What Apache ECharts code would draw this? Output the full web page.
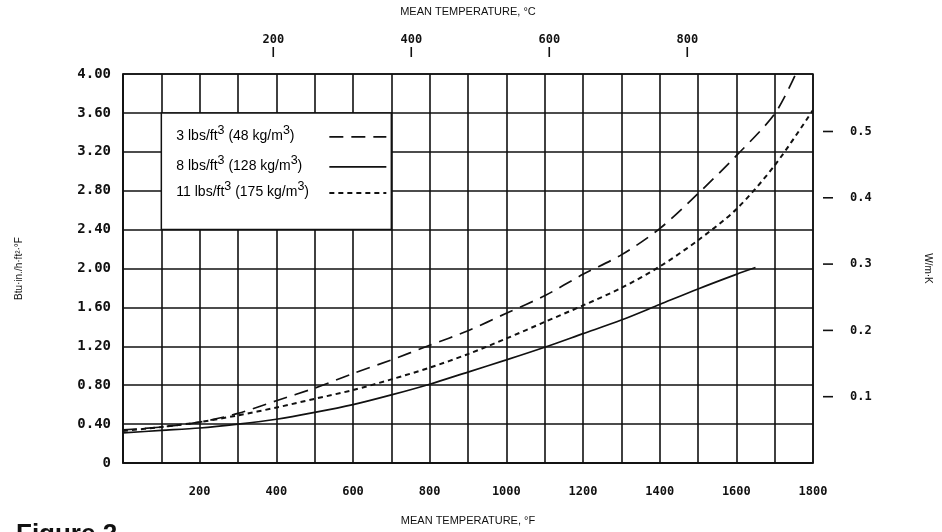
<!DOCTYPE html>
<html>
<head>
<meta charset="utf-8">
<script src="https://cdn.jsdelivr.net/npm/echarts@6/dist/echarts.min.js"></script>
<style>
html,body{margin:0;padding:0;background:#fff;}
#chart{width:942px;height:532px;}
</style>
</head>
<body>
<div id="chart"></div>
<script>
// ---- Data ----
// Mean temperature in °F, thermal conductivity in Btu·in/h·ft²·°F
const tempF3 = [0,100,200,300,400,500,600,700,800,900,1000,1100,1200,1300,1400,1500,1600,1700,1755];
const k3     = [0.34,0.37,0.42,0.51,0.64,0.77,0.92,1.06,1.21,1.36,1.54,1.72,1.94,2.14,2.41,2.77,3.16,3.59,4.00];

const tempF8 = [0,100,200,300,400,500,600,700,800,900,1000,1100,1200,1300,1400,1500,1600,1650];
const k8     = [0.31,0.335,0.36,0.40,0.45,0.52,0.60,0.70,0.81,0.935,1.06,1.19,1.33,1.47,1.63,1.79,1.94,2.01];

const tempF11 = [0,100,200,300,400,500,600,700,800,900,1000,1100,1200,1300,1400,1500,1600,1700,1800];
const k11     = [0.33,0.37,0.42,0.49,0.57,0.66,0.75,0.86,0.98,1.12,1.28,1.45,1.62,1.80,2.02,2.29,2.61,3.06,3.63];

const seriesNames = ['3 lbs/ft3 (48 kg/m3)', '8 lbs/ft3 (128 kg/m3)', '11 lbs/ft3 (175 kg/m3)'];
const celsiusTicks = [200, 400, 600, 800];
const wmkTicks = [0.1, 0.2, 0.3, 0.4, 0.5];
const fLabelTicks = [200,400,600,800,1000,1200,1400,1600,1800];

// ---- Chart ----
const zip = (xs, ys) => xs.map((x, i) => [x, ys[i]]);
const chart = echarts.init(document.getElementById('chart'));
const monoFont = "'DejaVu Sans Mono', monospace";
const narrowFont = "'Liberation Sans Narrow', 'Liberation Sans', sans-serif";

const fMin = 0, fMax = 1800;
const cMin = (fMin - 32) / 1.8, cMax = (fMax - 32) / 1.8;
const gridTop = 74, gridRight = 129;

chart.setOption({
  animation: false,
  backgroundColor: '#fff',
  grid: { left: 123, right: gridRight, top: gridTop, bottom: 69, show: true, borderColor: '#111', borderWidth: 1.5, backgroundColor: 'transparent' },
  xAxis: [
    {
      type: 'value', position: 'bottom', min: fMin, max: fMax, interval: 100,
      axisLine: { show: true, lineStyle: { color: '#111', width: 1.5 } },
      axisTick: { show: false },
      splitLine: { show: true, lineStyle: { color: '#111', width: 1.6 } },
      axisLabel: {
        margin: 23, color: '#111', fontFamily: monoFont, fontSize: 12, fontWeight: 'bold',
        formatter: v => fLabelTicks.indexOf(v) >= 0 ? String(v) : ''
      },
      name: 'MEAN TEMPERATURE, °F', nameLocation: 'middle', nameGap: 52,
      nameTextStyle: { fontFamily: narrowFont, fontSize: 11, color: '#111' }
    },
    {
      type: 'value', position: 'top', min: cMin, max: cMax, offset: 17,
      axisLine: { show: false },
      axisTick: { show: false },
      splitLine: { show: false },
      axisLabel: { customValues: celsiusTicks, margin: 11, color: '#111', fontFamily: monoFont, fontSize: 12, fontWeight: 'bold' },
      name: 'MEAN TEMPERATURE, °C', nameLocation: 'middle', nameGap: 40,
      nameTextStyle: { fontFamily: narrowFont, fontSize: 11, color: '#111' }
    }
  ],
  yAxis: [
    {
      type: 'value', position: 'left', min: 0, max: 4, interval: 0.4,
      axisLine: { show: true, lineStyle: { color: '#111', width: 1.5 } },
      axisTick: { show: false },
      splitLine: { show: true, lineStyle: { color: '#111', width: 1.5 } },
      axisLabel: {
        margin: 12, color: '#111', fontFamily: monoFont, fontSize: 14, fontWeight: 'bold',
        formatter: v => Math.abs(v) < 1e-9 ? '0' : v.toFixed(2)
      },
      name: 'Btu·in./h·ft²·°F', nameLocation: 'middle', nameGap: 99, nameRotate: 90,
      nameTextStyle: { fontFamily: narrowFont, fontSize: 10, color: '#111' }
    },
    {
      type: 'value', position: 'right', min: 0, max: 0.5867, offset: 10,
      axisLine: { show: false },
      axisTick: { show: false },
      splitLine: { show: false },
      axisLabel: { customValues: wmkTicks, margin: 27, color: '#111', fontFamily: monoFont, fontSize: 12, fontWeight: 'bold',
        formatter: v => v.toFixed(1) },
      name: 'W/m·K', nameLocation: 'middle', nameGap: 100, nameRotate: -90,
      nameTextStyle: { fontFamily: narrowFont, fontSize: 10, color: '#111' }
    }
  ],
  series: [
    { name: seriesNames[0], type: 'line', xAxisIndex: 0, yAxisIndex: 0, data: zip(tempF3, k3),
      showSymbol: false, smooth: 0.3, z: 5,
      lineStyle: { color: '#111', width: 1.7, type: [14, 8] } },
    { name: seriesNames[1], type: 'line', xAxisIndex: 0, yAxisIndex: 0, data: zip(tempF8, k8),
      showSymbol: false, smooth: 0.3, z: 5,
      lineStyle: { color: '#111', width: 1.7, type: 'solid' } },
    { name: seriesNames[2], type: 'line', xAxisIndex: 0, yAxisIndex: 0, data: zip(tempF11, k11),
      showSymbol: false, smooth: 0.3, z: 5,
      lineStyle: { color: '#111', width: 2, type: [5, 4] } }
  ]
});

// ---- Legend box placed over the grid cell block 100–700 °F, 2.40–3.60 ----
const p1 = chart.convertToPixel({ xAxisIndex: 0, yAxisIndex: 0 }, [100, 3.6]);
const p2 = chart.convertToPixel({ xAxisIndex: 0, yAxisIndex: 0 }, [700, 2.4]);
const bx = p1[0], by = p1[1], bw = p2[0] - p1[0], bh = p2[1] - p1[1];
const legendRows = [
  { txt: '{a|3 lbs/ft}{s|3}{a| (48 kg/m}{s|3}{a|)}', dash: [14, 8], w: 1.7, dy: 23 },
  { txt: '{a|8 lbs/ft}{s|3}{a| (128 kg/m}{s|3}{a|)}', dash: null, w: 1.7, dy: 53 },
  { txt: '{a|11 lbs/ft}{s|3}{a| (175 kg/m}{s|3}{a|)}', dash: [5, 4], w: 2, dy: 79 }
];
const rich = {
  a: { fontFamily: "'Liberation Sans', sans-serif", fontSize: 14, color: '#111' },
  s: { fontFamily: "'Liberation Sans', sans-serif", fontSize: 12.5, color: '#111', padding: [0, 0, 10, 0] }
};
const g = [
  { type: 'rect', z: 10, shape: { x: bx, y: by, width: bw, height: bh },
    style: { fill: '#fff', stroke: '#111', lineWidth: 1.5 } }
];
legendRows.forEach(r => {
  g.push({ type: 'text', z: 11, x: bx + 15, y: by + r.dy,
    style: { text: r.txt, rich: rich, verticalAlign: 'middle', align: 'left' } });
  g.push({ type: 'line', z: 11, shape: { x1: bx + 168, y1: by + r.dy + 1, x2: bx + 225, y2: by + r.dy + 1 },
    style: { stroke: '#111', lineWidth: r.w, lineDash: r.dash } });
});

// ---- Detached tick marks for the secondary (°C and W/m·K) axes ----
celsiusTicks.forEach(c => {
  const x = chart.convertToPixel({ xAxisIndex: 1 }, c);
  g.push({ type: 'line', z: 11, shape: { x1: x, y1: gridTop - 27, x2: x, y2: gridTop - 17 },
    style: { stroke: '#111', lineWidth: 1.6 } });
});
const rightEdge = 942 - gridRight;
wmkTicks.forEach(w => {
  const y = chart.convertToPixel({ yAxisIndex: 1 }, w);
  g.push({ type: 'line', z: 11, shape: { x1: rightEdge + 10, y1: y, x2: rightEdge + 20, y2: y },
    style: { stroke: '#111', lineWidth: 1.6 } });
});

g.push({ type: 'text', z: 11, left: 16, top: 522,
  style: { text: 'Figure 2', fontFamily: "'Liberation Sans', sans-serif", fontWeight: 'bold', fontSize: 26, fill: '#111' } });
chart.setOption({ graphic: g });
</script>
</body>
</html>
